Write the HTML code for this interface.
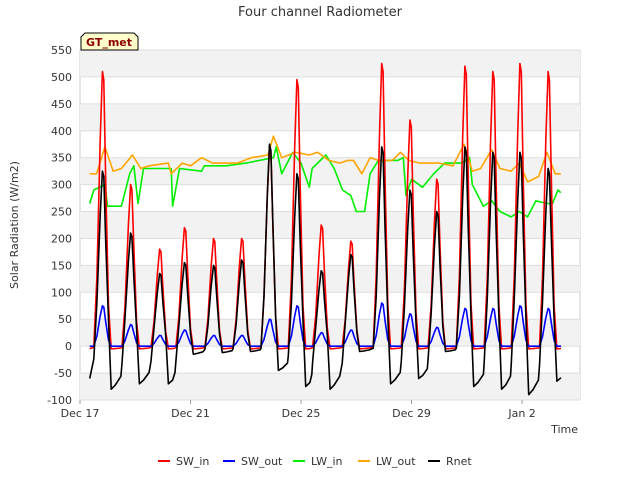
<!DOCTYPE html>
<html><head><meta charset="utf-8"><style>
body{margin:0;background:#fff;font-family:"DejaVu Sans","Liberation Sans",sans-serif}
</style></head><body>
<svg id="c" width="640" height="480" xmlns="http://www.w3.org/2000/svg" font-family="DejaVu Sans, Liberation Sans, sans-serif"></svg>
<script>
const xTickLabels=["Dec 17","Dec 21","Dec 25","Dec 29","Jan 2"];
const xTickDays=[0,4,8,12,16];
const yTicks=[-100,-50,0,50,100,150,200,250,300,350,400,450,500,550];
const swInPeakDay=[0.83,1.85,2.9,3.8,4.85,5.87,6.88,7.87,8.75,9.82,10.94,11.96,12.93,13.95,14.96,15.94,16.96];
const swInPeak=[510,300,180,220,200,200,370,495,225,195,525,420,310,520,510,525,510];
const swOutPeak=[75,40,20,30,20,20,50,75,25,30,80,60,35,70,70,75,70];
const rnetPeak=[325,210,135,155,150,160,375,320,140,170,370,290,250,370,360,360,330];
const rnetNight=[-80,-70,-70,-15,-12,-10,-45,-75,-80,-10,-70,-60,-10,-75,-80,-90,-65];
const lwInDays=[0.35,0.5,0.9,1.0,1.5,1.8,1.95,2.1,2.3,2.8,3.3,3.35,3.6,4.4,4.5,5.3,6.0,6.5,7.0,7.1,7.3,7.7,8.0,8.3,8.4,8.9,9.2,9.5,9.8,10.0,10.3,10.5,10.8,11.2,11.5,11.7,11.8,12.0,12.4,12.8,13.2,13.8,14.1,14.2,14.6,14.9,15.2,15.6,15.9,16.2,16.5,16.9,17.1,17.3,17.4];
const lwInVals=[265,290,300,260,260,320,335,265,330,330,330,260,330,325,335,335,340,345,350,370,320,360,340,295,330,355,330,290,280,250,250,320,345,345,345,350,280,310,295,320,340,340,350,300,260,270,250,240,250,240,270,265,265,290,285];
const lwOutDays=[0.35,0.6,0.9,1.2,1.5,1.9,2.2,2.5,3.2,3.3,3.7,4.0,4.4,4.8,5.3,5.7,6.2,6.8,7.0,7.3,7.8,8.3,8.6,9.0,9.4,9.7,9.9,10.2,10.5,10.8,11.3,11.6,11.9,12.3,13.0,13.5,13.9,14.2,14.5,14.9,15.2,15.6,15.9,16.2,16.6,16.9,17.2,17.4];
const lwOutVals=[320,320,370,325,330,355,330,335,340,320,340,335,350,340,340,340,350,355,390,350,360,355,360,345,340,345,345,320,350,345,345,360,345,340,340,335,375,325,330,365,330,325,340,305,315,360,320,320];

const svg=document.getElementById('c');const NS='http://www.w3.org/2000/svg';
const X0=80,X1=580,Y0=50,Y1=400;
const xs=d=>X0+d*27.63;
const ys=v=>Y1-(v+100)*(Y1-Y0)/650;
function mk(t,a,p){const e=document.createElementNS(NS,t);for(const k in a)e.setAttribute(k,a[k]);(p||svg).appendChild(e);return e;}
mk('rect',{x:X0,y:Y0,width:X1-X0,height:Y1-Y0,fill:'#fff',stroke:'#ccc'});
for(let i=0;i<yTicks.length-1;i++){if(i%2==0){const r=mk('rect',{x:X0,y:ys(yTicks[i+1]),width:X1-X0,height:ys(yTicks[i])-ys(yTicks[i+1]),fill:'#f2f2f2'});}}
yTicks.forEach(v=>{mk('line',{x1:X0,x2:X1,y1:ys(v),y2:ys(v),stroke:'#ddd'});
const t=mk('text',{x:X0-8,y:ys(v)+4,'text-anchor':'end','font-size':11,fill:'#333'});t.textContent=v;});
xTickDays.forEach((d,i)=>{mk('line',{x1:xs(d),x2:xs(d),y1:Y1,y2:Y1+4,stroke:'#999'});
const t=mk('text',{x:xs(d),y:Y1+17,'text-anchor':'middle','font-size':11,fill:'#333'});t.textContent=xTickLabels[i];});
function line(pts,col,name){const p=mk('polyline',{points:pts.map(q=>xs(q[0]).toFixed(1)+','+ys(q[1]).toFixed(1)).join(' '),fill:'none',stroke:col,'stroke-width':1.6,'stroke-linejoin':'round'});}
function peaks(pk,night,start){const pts=[[0.35,start]];pk.forEach((v,i)=>{const d=swInPeakDay[i];const prev=i>0?night(i-1):start;
pts.push([d-0.33,prev*0.4],[d-0.22,v*0.25],[d-0.1,v*0.75],[d-0.02,v],[d+0.03,v*0.97],[d+0.1,v*0.6],[d+0.2,v*0.15],[d+0.3,night(i)],[d+0.45,night(i)*0.9]);
if(i<pk.length-1)pts.push([Math.min(d+0.65,swInPeakDay[i+1]-0.36),night(i)*0.7]);});
pts.sort((a,b)=>a[0]-b[0]);return pts.filter(p=>p[0]<=17.45);}
line(lwInDays.map((d,i)=>[d,lwInVals[i]]),'#00ee00','lw-in-line');
line(lwOutDays.map((d,i)=>[d,lwOutVals[i]]),'#ffa500','lw-out-line');
line(peaks(swInPeak,()=>-5,-5),'#ff0000','sw-in-line');
line(peaks(swOutPeak,()=>0,0),'#0000ff','sw-out-line');
line(peaks(rnetPeak,i=>rnetNight[i],-60),'#000000','rnet-line');
let t=mk('text',{x:320,y:16,'text-anchor':'middle','font-size':13,fill:'#333'});t.textContent='Four channel Radiometer';
t=mk('text',{x:18,y:225,'text-anchor':'middle','font-size':11,fill:'#333',transform:'rotate(-90 18 225)'});t.textContent='Solar Radiation (W/m2)';
t=mk('text',{x:578,y:433,'text-anchor':'end','font-size':11,fill:'#333'});t.textContent='Time';
const g=mk('g',{});
mk('path',{d:'M81,50 L81,37 L85,33 L134,33 L138,37 L138,50 Z',fill:'#ffffcc',stroke:'#000'},g);
t=mk('text',{x:109,y:46,'text-anchor':'middle','font-size':11,'font-weight':'bold',fill:'#8b0000'},g);t.textContent='GT_met';
const leg=[['SW_in','#ff0000',158],['SW_out','#0000ff',223],['LW_in','#00ee00',293],['LW_out','#ffa500',358],['Rnet','#000000',428]];
leg.forEach(l=>{const lg=mk('g',{});
mk('line',{x1:l[2],x2:l[2]+12,y1:461,y2:461,stroke:l[1],'stroke-width':2},lg);
const tt=mk('text',{x:l[2]+18,y:465,'font-size':11,fill:'#333'},lg);tt.textContent=l[0];});
</script></body></html>
